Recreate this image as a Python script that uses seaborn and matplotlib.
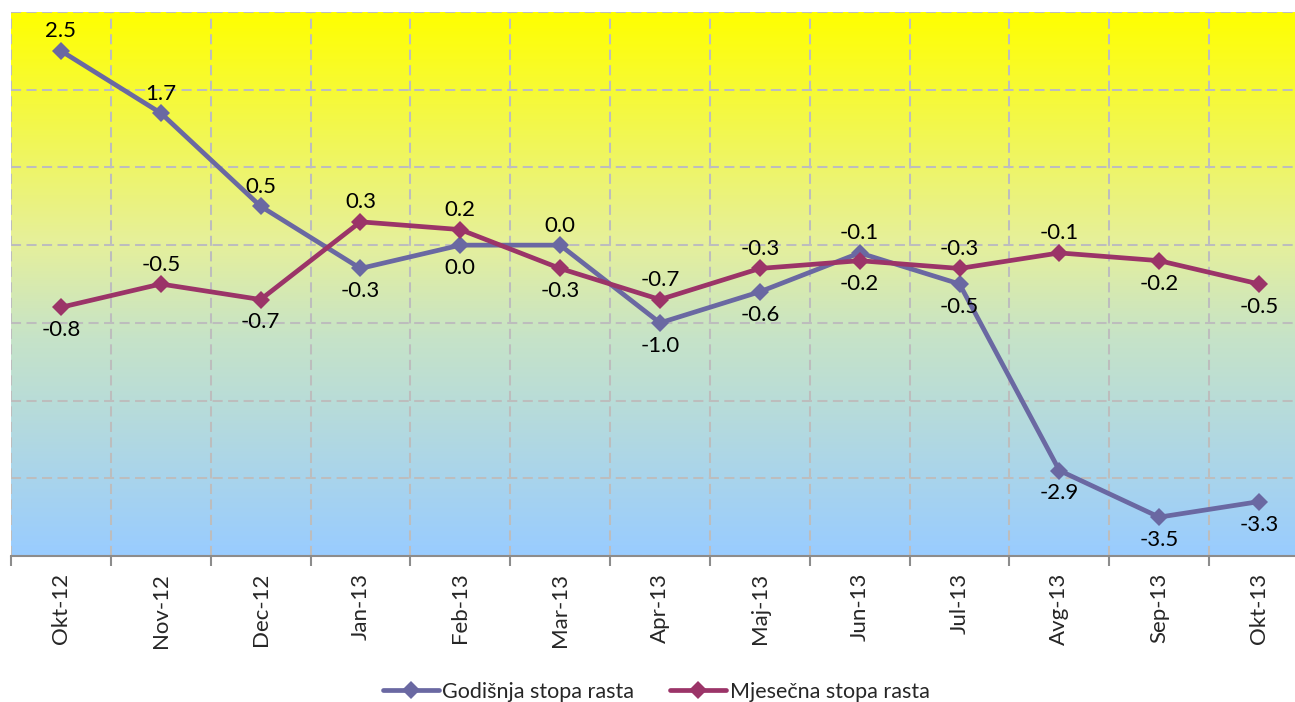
import numpy as np
import pandas as pd
import matplotlib
matplotlib.use("Agg")
import matplotlib.pyplot as plt
from matplotlib.colors import LinearSegmentedColormap
import seaborn as sns

months = ["Okt-12", "Nov-12", "Dec-12", "Jan-13", "Feb-13", "Mar-13", "Apr-13",
          "Maj-13", "Jun-13", "Jul-13", "Avg-13", "Sep-13", "Okt-13"]
godisnja = [2.5, 1.7, 0.5, -0.3, 0.0, 0.0, -1.0, -0.6, -0.1, -0.5, -2.9, -3.5, -3.3]
mjesecna = [-0.8, -0.5, -0.7, 0.3, 0.2, -0.3, -0.7, -0.3, -0.2, -0.3, -0.1, -0.2, -0.5]
# label placement: 1 above, -1 below
god_pos = [1, 1, 1, -1, -1, 1, -1, -1, 1, -1, -1, -1, -1]
mje_pos = [-1, 1, -1, 1, 1, -1, 1, 1, -1, 1, 1, -1, -1]
series_names = ["Godišnja stopa rasta", "Mjesečna stopa rasta"]
colors = ["#6A68A2", "#9B3468"]

sns.set_theme(style="white")
plt.rcParams['font.family'] = ['Lato', 'DejaVu Sans']

df = pd.DataFrame({
    "x": list(range(len(months))) * 2,
    "value": godisnja + mjesecna,
    "series": [series_names[0]] * len(months) + [series_names[1]] * len(months),
})

fig = plt.figure(figsize=(12.95, 7.02), dpi=100)
W, H = 1295, 702
left, right, top, bottom = 11, 1309, 12, 556
ax = fig.add_axes([left / W, 1 - bottom / H, (right - left) / W, (bottom - top) / H])

# gradient background
cmap = LinearSegmentedColormap.from_list(
    "bg", [(0.0, "#FFFF00"), (0.42, "#E6F09A"), (0.6, "#C6E3C8"), (1.0, "#99CCFF")])
grad = np.linspace(0, 1, 256).reshape(-1, 1)
ax.imshow(grad, aspect="auto", cmap=cmap, extent=[-0.5, 12.5, -4, 3],
          origin="upper", zorder=0)

sns.lineplot(data=df, x="x", y="value", hue="series", palette=colors,
             marker="D", markersize=9, markeredgewidth=0, linewidth=3.4,
             ax=ax, zorder=3, legend=True)

ax.set_xlim(-0.5, 12.5)
ax.set_ylim(-4, 3)
ax.set_yticks(np.arange(-4, 4, 1))
ax.set_yticklabels([])
ax.tick_params(axis="y", length=0)

ax.set_xticks(range(len(months)))
ax.set_xticklabels(months, rotation=90, fontsize=16)
ax.set_xticks(np.arange(-0.5, 13, 1), minor=True)
ax.tick_params(axis="x", which="major", length=0, pad=12, bottom=True)
ax.tick_params(axis="x", which="minor", length=7, width=1.5, color="#8C8C8C",
               direction="out", bottom=True)
ax.set_xlabel("")
ax.set_ylabel("")

grid_kw = dict(color="#BDBDBD", linestyle=(0, (5, 2.7)), linewidth=1.45)
ax.grid(False)
ax.xaxis.grid(True, which="minor", **grid_kw)
ax.yaxis.grid(True, which="major", **grid_kw)
ax.set_axisbelow(True)

for s in ["left", "right", "top"]:
    ax.spines[s].set_visible(False)
ax.spines["bottom"].set_color("#8C8C8C")
ax.spines["bottom"].set_linewidth(1.5)

for vals, pos in [(godisnja, god_pos), (mjesecna, mje_pos)]:
    for i, (v, p) in enumerate(zip(vals, pos)):
        off = 14 if p > 0 else -16.5
        ax.annotate(f"{v:.1f}", (i, v), xytext=(0, off), textcoords="offset points",
                    ha="center", va="center", fontsize=16, color="black", zorder=5)

leg = ax.legend(loc="center", bbox_to_anchor=(656 / W, 1 - 692 / H),
                bbox_transform=fig.transFigure, ncol=2, frameon=False,
                fontsize=15.5, handlelength=2.6, columnspacing=1.7, handletextpad=0.15)

fig.savefig("out.png", dpi=100)
